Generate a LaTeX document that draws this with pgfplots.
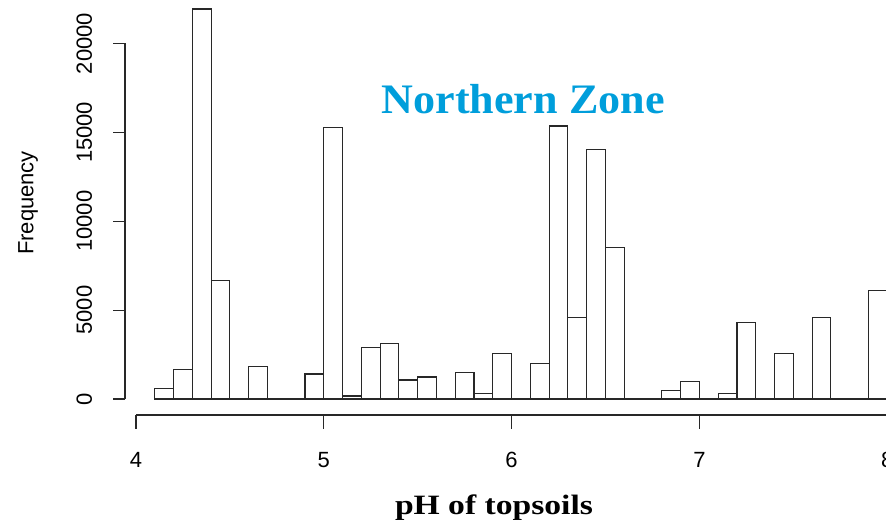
\documentclass[border=0pt]{standalone}
\usepackage{pgfplots}
\pgfplotsset{compat=1.18}
\usepackage{fontspec}
\setmainfont{Liberation Serif}
\newfontfamily\arial{Liberation Sans}
\definecolor{titleblue}{RGB}{0,158,219}
\definecolor{linegray}{RGB}{40,40,40}
\begin{document}
\begin{tikzpicture}[x=1pt,y=1pt]
\path[use as bounding box] (0,0) rectangle (886,522);
\begin{axis}[
  at={(0,0)}, anchor=south west,
  scale only axis, width=886pt, height=522pt,
  xmin=3.27583, xmax=7.99361, ymin=-6920, ymax=22447,
  hide axis, clip=false,
]
\addplot[ybar interval, draw=linegray, line width=1.1pt, fill=none] coordinates {
(4.1,580) (4.2,1670) (4.3,21940) (4.4,6680) (4.5,0) (4.6,1820) (4.7,0) (4.8,0)
(4.9,1405) (5.0,15285) (5.1,170) (5.2,2885) (5.3,3135) (5.4,1070) (5.5,1240)
(5.6,0) (5.7,1480) (5.8,320) (5.9,2550) (6.0,0) (6.1,1985) (6.2,15360)
(6.3,4610) (6.4,14025) (6.5,8510) (6.6,0) (6.7,0) (6.8,490) (6.9,975)
(7.0,0) (7.1,320) (7.2,4290) (7.3,0) (7.4,2550) (7.5,0) (7.6,4610)
(7.7,0) (7.8,0) (7.9,6115) (8.0,0)
};
% x axis
\draw[linegray, line width=1.1pt] (axis cs:4,-900) -- (axis cs:8,-900);
\pgfplotsinvokeforeach{4,5,6,7,8}{
  \draw[linegray, line width=1.1pt] (axis cs:#1,-900) -- (axis cs:#1,-1690);
  \node[anchor=base, font=\arial\fontsize{22}{26}\selectfont] at (axis cs:#1,-3826) {#1};
}
% y axis
\draw[linegray, line width=1.1pt] (axis cs:3.94143,0) -- (axis cs:3.94143,20000);
\pgfplotsinvokeforeach{0,5000,10000,15000,20000}{
  \draw[linegray, line width=1.1pt] (axis cs:3.94143,#1) -- (axis cs:3.87753,#1);
  \node[anchor=base, rotate=90, font=\arial\fontsize{22}{26}\selectfont] at (axis cs:3.7657,#1) {#1};
}
\node[rotate=90, font=\arial\fontsize{22}{26}\selectfont] at (axis cs:3.42492,11027) {Frequency};
\node[anchor=base, xscale=1.05, text=titleblue, font=\bfseries\fontsize{42}{50}\selectfont] at (axis cs:6.0618,16073) {Northern Zone};
\node[anchor=base, xscale=1.2, font=\bfseries\fontsize{28}{34}\selectfont] at (axis cs:5.9063,-6526) {pH of topsoils};
\end{axis}
\end{tikzpicture}
\end{document}
